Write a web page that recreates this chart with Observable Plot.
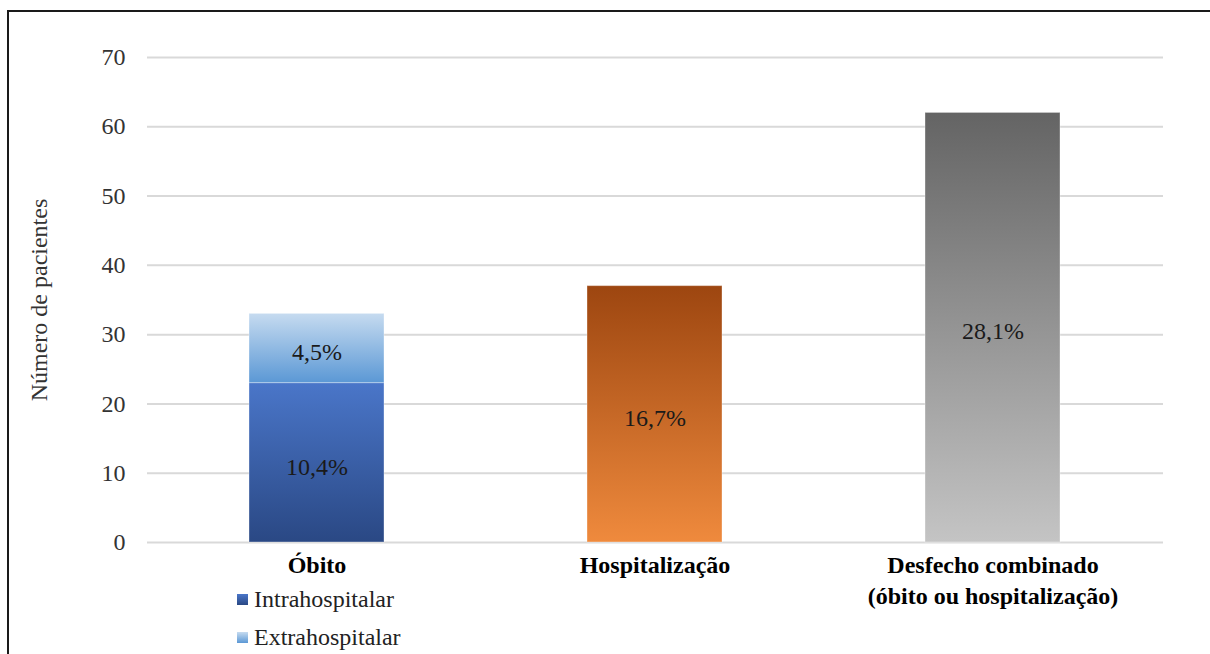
<!DOCTYPE html>
<html>
<head>
<meta charset="utf-8">
<script src="https://cdn.jsdelivr.net/npm/d3@7"></script>
<script src="https://cdn.jsdelivr.net/npm/@observablehq/plot@0.6"></script>
<style>
  html, body { margin: 0; padding: 0; background: #fff; }
  #wrap { position: relative; width: 1210px; height: 654px; overflow: hidden; font-family: "Liberation Serif", "Times New Roman", serif; }
  #chart svg, #chart svg text { font-family: "Liberation Serif", "Times New Roman", serif !important; }
  #frame { position: absolute; left: 7px; top: 10px; width: 1300px; height: 700px; border-top: 2px solid #1a1a1a; border-left: 2px solid #1a1a1a; pointer-events: none; }
  #legend { position: absolute; left: 237px; top: 580px; font-size: 24px; color: #222; }
  #legend .item { display: flex; align-items: center; height: 38px; }
  #legend .sw { width: 11px; height: 11px; margin-right: 6px; }
</style>
</head>
<body>
<div id="wrap">
  <div id="chart"></div>
  <div id="frame"></div>
  <div id="legend"></div>
</div>
<script>
// ---- data ----
const categories = ["Óbito", "Hospitalização", "Desfecho combinado\n(óbito ou hospitalização)"];
const seriesNames = ["Intrahospitalar", "Extrahospitalar", "Hospitalização", "Desfecho combinado"];
const seriesCategory = ["Óbito", "Óbito", "Hospitalização", "Desfecho combinado\n(óbito ou hospitalização)"];
const seriesValues = [23, 10, 37, 62];
const seriesLabels = ["10,4%", "4,5%", "16,7%", "28,1%"];
const yTicks = [0, 10, 20, 30, 40, 50, 60, 70];
const yTitle = "Número de pacientes";
const legendSeries = ["Intrahospitalar", "Extrahospitalar"];

// gradient definitions (colour stops, top -> bottom)
const gradients = [
  {id: "gIntra", top: "#4A76C9", bottom: "#2A4884"},
  {id: "gExtra", top: "#C6DBF0", bottom: "#5B98D5"},
  {id: "gHosp", top: "#9D4610", bottom: "#EF8A3D"},
  {id: "gComb", top: "#646464", bottom: "#C4C4C4"}
];

const serif = "'Liberation Serif', 'Times New Roman', serif";

const rows = seriesNames.map((s, i) => ({
  series: s, cat: seriesCategory[i], value: seriesValues[i], label: seriesLabels[i]
}));

const chart = Plot.plot({
  width: 1210,
  height: 654,
  marginLeft: 147,
  marginRight: 47,
  marginTop: 57,
  marginBottom: 112,
  style: {fontFamily: serif, fontSize: "24px", background: "transparent", color: "#333"},
  x: {domain: categories, paddingInner: 0.6, paddingOuter: 0.3},
  y: {domain: [0, 70]},
  color: {type: "ordinal", domain: seriesNames, range: gradients.map(g => `url(#${g.id})`)},
  marks: [
    Plot.ruleY(yTicks, {stroke: "#d9d9d9", strokeWidth: 2}),
    Plot.barY(rows, Plot.stackY({x: "cat", y: "value", fill: "series", stroke: "#ffffff", strokeOpacity: 0.35, strokeWidth: 1})),
    Plot.text(rows, Plot.stackY({x: "cat", y: "value", text: "label", fill: "#1a1a1a", fontSize: 24, fontFamily: serif, dy: 4})),
    Plot.axisY(yTicks, {tickSize: 0, tickPadding: 22, fill: "#333", fontSize: 24, fontFamily: serif,
      label: yTitle, labelAnchor: "center", labelArrow: "none", labelOffset: 118}),
    Plot.axisX({tickSize: 0, tickPadding: 8, fontWeight: "bold", fill: "#000", fontSize: 24, fontFamily: serif,
      lineHeight: 1.3, lineAnchor: "top", label: null})
  ]
});

// add gradient defs
const svg = d3.select(chart);
svg.attr("font-family", serif);
const defs = svg.insert("defs", ":first-child");
for (const g of gradients) {
  const lg = defs.append("linearGradient").attr("id", g.id)
    .attr("x1", 0).attr("y1", 0).attr("x2", 0).attr("y2", 1);
  lg.append("stop").attr("offset", "0%").attr("stop-color", g.top);
  lg.append("stop").attr("offset", "100%").attr("stop-color", g.bottom);
}
document.getElementById("chart").appendChild(chart);

// legend
const leg = d3.select("#legend");
legendSeries.forEach((s) => {
  const g = gradients[seriesNames.indexOf(s)];
  const it = leg.append("div").attr("class", "item");
  it.append("div").attr("class", "sw").style("background", `linear-gradient(${g.top}, ${g.bottom})`);
  it.append("span").text(s);
});
</script>
</body>
</html>
